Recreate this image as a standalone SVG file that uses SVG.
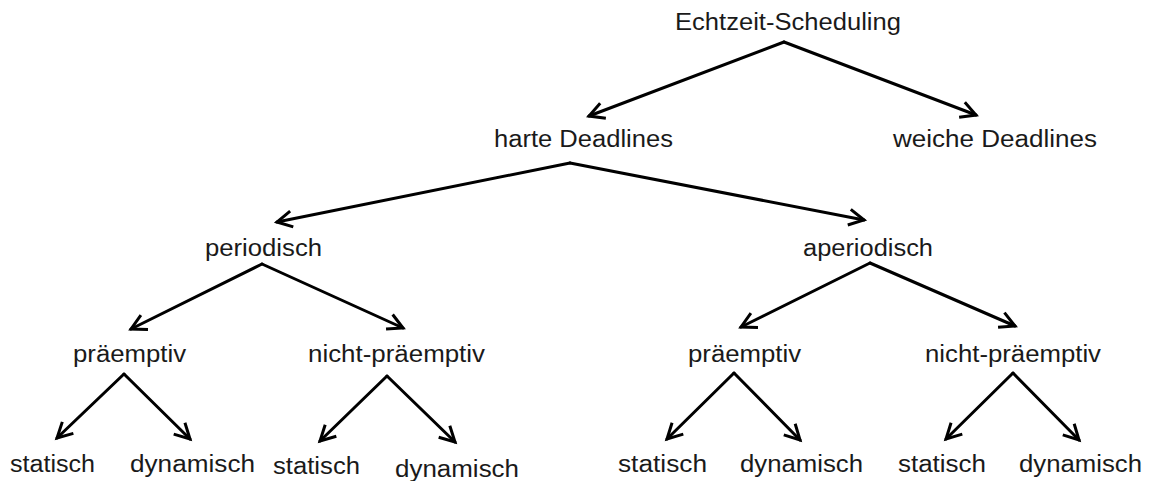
<svg xmlns="http://www.w3.org/2000/svg" width="1156" height="481" viewBox="0 0 1156 481">
  <style>
    .lbl { font-family: "Liberation Sans", Arial, sans-serif; font-size: 23px; fill: #1a1a1a; }
    .edge { stroke: #000; stroke-width: 3; fill: none; stroke-linecap: round; marker-end: url(#arrow); }
  </style>
  <defs>
    <marker id="arrow" markerUnits="userSpaceOnUse" viewBox="-18 -11 22 22" refX="0" refY="0" markerWidth="22" markerHeight="22" orient="auto">
      <path d="M -15 -8 L 0 0 L -15 8" fill="none" stroke="#000" stroke-width="3" stroke-linejoin="miter"/>
    </marker>
  </defs>
  <rect width="1156" height="481" fill="#fff"/>

  <g id="connectors">
    <line class="edge" x1="784" y1="42" x2="589" y2="116"/>
    <line class="edge" x1="784" y1="42" x2="976" y2="115"/>
    <line class="edge" x1="570" y1="163" x2="277" y2="222"/>
    <line class="edge" x1="570" y1="163" x2="864" y2="220"/>
    <line class="edge" x1="262" y1="264" x2="131" y2="329"/>
    <line class="edge" x1="262" y1="264" x2="403" y2="328"/>
    <line class="edge" x1="870" y1="263" x2="741" y2="327"/>
    <line class="edge" x1="870" y1="263" x2="1015" y2="326"/>
    <line class="edge" x1="124" y1="374" x2="57" y2="438"/>
    <line class="edge" x1="124" y1="374" x2="190" y2="439"/>
    <line class="edge" x1="387" y1="376" x2="320" y2="441"/>
    <line class="edge" x1="387" y1="376" x2="455" y2="442"/>
    <line class="edge" x1="734" y1="373" x2="667" y2="439"/>
    <line class="edge" x1="734" y1="373" x2="800" y2="440"/>
    <line class="edge" x1="1013" y1="373" x2="946" y2="439"/>
    <line class="edge" x1="1013" y1="373" x2="1079" y2="440"/>
  </g>

  <g id="echtzeit-scheduling"><text class="lbl" x="675" y="30" textLength="226" lengthAdjust="spacingAndGlyphs">Echtzeit-Scheduling</text></g>
  <g id="harte-deadlines"><text class="lbl" x="494" y="147" textLength="179" lengthAdjust="spacingAndGlyphs">harte Deadlines</text></g>
  <g id="weiche-deadlines"><text class="lbl" x="893" y="147" textLength="204" lengthAdjust="spacingAndGlyphs">weiche Deadlines</text></g>
  <g id="periodisch"><text class="lbl" x="205" y="256" textLength="117" lengthAdjust="spacingAndGlyphs">periodisch</text></g>
  <g id="aperiodisch"><text class="lbl" x="803" y="256" textLength="130" lengthAdjust="spacingAndGlyphs">aperiodisch</text></g>

  <g id="p-praeemptiv"><text class="lbl" x="73" y="362" textLength="113" lengthAdjust="spacingAndGlyphs">präemptiv</text></g>
  <g id="p-nicht-praeemptiv"><text class="lbl" x="308" y="362" textLength="177" lengthAdjust="spacingAndGlyphs">nicht-präemptiv</text></g>
  <g id="a-praeemptiv"><text class="lbl" x="688" y="362" textLength="113" lengthAdjust="spacingAndGlyphs">präemptiv</text></g>
  <g id="a-nicht-praeemptiv"><text class="lbl" x="925" y="362" textLength="176" lengthAdjust="spacingAndGlyphs">nicht-präemptiv</text></g>

  <g id="pp-statisch"><text class="lbl" x="10" y="472" textLength="85" lengthAdjust="spacingAndGlyphs">statisch</text></g>
  <g id="pp-dynamisch"><text class="lbl" x="130" y="472" textLength="125" lengthAdjust="spacingAndGlyphs">dynamisch</text></g>
  <g id="pn-statisch"><text class="lbl" x="273" y="474" textLength="87" lengthAdjust="spacingAndGlyphs">statisch</text></g>
  <g id="pn-dynamisch"><text class="lbl" x="395" y="477" textLength="124" lengthAdjust="spacingAndGlyphs">dynamisch</text></g>
  <g id="ap-statisch"><text class="lbl" x="618" y="472" textLength="89" lengthAdjust="spacingAndGlyphs">statisch</text></g>
  <g id="ap-dynamisch"><text class="lbl" x="740" y="472" textLength="123" lengthAdjust="spacingAndGlyphs">dynamisch</text></g>
  <g id="an-statisch"><text class="lbl" x="898" y="472" textLength="88" lengthAdjust="spacingAndGlyphs">statisch</text></g>
  <g id="an-dynamisch"><text class="lbl" x="1019" y="472" textLength="123" lengthAdjust="spacingAndGlyphs">dynamisch</text></g>
</svg>
